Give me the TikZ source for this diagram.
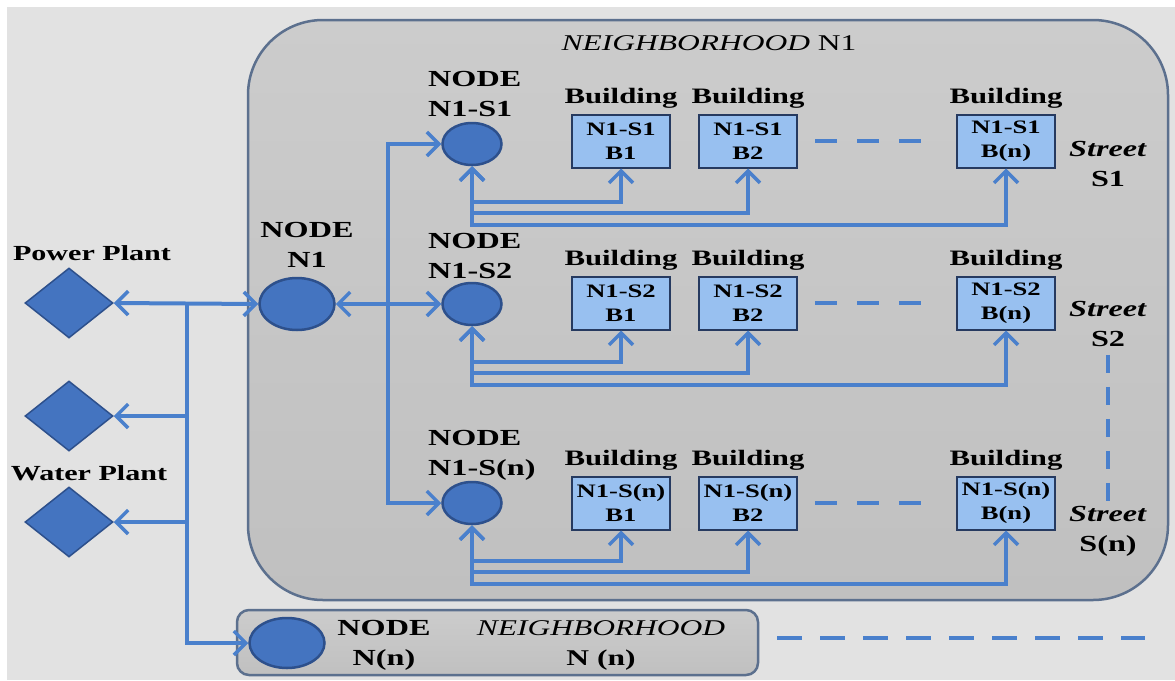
\documentclass[tikz,border=0pt]{standalone}
\usepackage{fontspec}
\setmainfont{Liberation Serif}[FakeStretch=1.4]
\usetikzlibrary{shapes.geometric,arrows.meta}

\definecolor{bg}{RGB}{226,226,226}
\definecolor{hoodtop}{RGB}{204,204,204}
\definecolor{hoodbot}{RGB}{192,192,192}
\definecolor{hoodline}{RGB}{92,112,142}
\definecolor{wire}{RGB}{74,128,204}
\definecolor{hubfill}{RGB}{68,116,192}
\definecolor{hubline}{RGB}{45,80,140}
\definecolor{bfill}{RGB}{152,192,240}
\definecolor{bline}{RGB}{38,58,96}

\begin{document}
\begin{tikzpicture}[x=1pt,y=-1pt,
  >={Straight Barb[length=12pt,width=24pt,line width=3.5pt]},
  wire/.style={draw=wire,line width=4pt},
  dashwire/.style={draw=wire,line width=4pt,dash pattern=on 22pt off 20pt},
  hub/.style={ellipse,fill=hubfill,draw=hubline,line width=2.5pt,inner sep=0pt},
  plant/.style={diamond,fill=hubfill,draw=hubline,line width=1.5pt,
    minimum width=88pt,minimum height=70pt,inner sep=0pt},
  bldg/.style={rectangle,fill=bfill,draw=bline,line width=2pt,
    minimum width=98pt,minimum height=53pt,align=center,inner sep=0pt,
    font=\fontsize{19}{24}\selectfont\bfseries},
  lbl/.style={inner sep=0pt,align=center,font=\fontsize{23}{30}\selectfont\bfseries},
  blbl/.style={inner sep=0pt,anchor=south,font=\fontsize{22}{26}\selectfont\bfseries},
  plbl/.style={inner sep=0pt,font=\fontsize{21.5}{26}\selectfont\bfseries},
  hoodbox/.style={draw=hoodline,line width=2.5pt,top color=hoodtop,bottom color=hoodbot,inner sep=0pt}
]
\useasboundingbox (0,0) rectangle (1175,680);

% page background
\fill[white] (0,0) rectangle (1175,680);
\fill[bg] (7,7) rectangle (1175,680);

% neighbourhood areas
\node[hoodbox,rounded corners=75pt,minimum width=920pt,minimum height=580pt] (hood) at (708,310) {};
\node[hoodbox,rounded corners=12pt,minimum width=521pt,minimum height=65pt] (nnbox) at (497.5,642.5) {};
\node[inner sep=0pt,font=\fontsize{22.5}{28}\selectfont] (title) at (709,43) {\textit{NEIGHBORHOOD} N1};

% plants
\node[plant] (pp) at (69,303) {};
\node[plant] (p2) at (69,416) {};
\node[plant] (wp) at (69,522) {};
\node[plbl] (pplbl) at (92,253) {Power Plant};
\node[plbl] (wplbl) at (89,473) {Water Plant};

% neighbourhood hubs
\node[hub,minimum width=75pt,minimum height=52pt] (n1) at (297,304) {};
\node[lbl] (n1lbl) at (307,245) {NODE\\N1};
\node[hub,minimum width=75pt,minimum height=50pt] (nn) at (287,643) {};
\node[lbl] (nnlbl) at (384,645) {NODE\\N(n)};
\node[lbl,font=\fontsize{22.5}{30}\selectfont\bfseries] (nnname) at (601,645) {\textit{\mdseries NEIGHBORHOOD}\\N (n)};

% street hubs
\node[hub,minimum width=59pt,minimum height=42pt] (s1) at (472,144) {};
\node[hub,minimum width=59pt,minimum height=42pt] (s2) at (472,304) {};
\node[hub,minimum width=59pt,minimum height=42pt] (s3) at (472,503) {};
\node[lbl,align=left,anchor=west] (s1lbl) at (428,94) {NODE\\N1-S1};
\node[lbl,align=left,anchor=west] (s2lbl) at (428,256) {NODE\\N1-S2};
\node[lbl,align=left,anchor=west] (s3lbl) at (428,455) {NODE\\N1-S(n)};

% buildings
\foreach \r/\y/\t in {1/141/S1, 2/303/S2, 3/503/S(n)} {
  \node[bldg] (b\r-1) at (621,\y) {N1-\t\\B1};
  \node[bldg] (b\r-2) at (748,\y) {N1-\t\\B2};
  \node[bldg] (b\r-n) at (1006,\y) {N1-\t\\B(n)};
  \foreach \b in {1,2,n}
    \node[blbl] (bl\r-\b) at ([yshift=5pt]b\r-\b.north) {Building};
  \draw[dashwire,shorten <=17pt,shorten >=30pt] (b\r-2.east) -- (b\r-n.west);
  \draw[wire,<->] (s\r.south) -- ++(0,36) -| (b\r-1.south);
  \draw[wire,<->] (s\r.south) -- ++(0,47) -| (b\r-2.south);
  \draw[wire,<->] (s\r.south) -- ++(0,59) -| (b\r-n.south);
}

% street labels
\node[lbl] (st1) at (1108,164) {\textit{Street}\\S1};
\node[lbl] (st2) at (1108,324) {\textit{Street}\\S2};
\node[lbl] (st3) at (1108,531) {\textit{Street}\\S(n)};
\draw[draw=wire,line width=4pt,dash pattern=on 18pt off 14pt,shorten <=8pt,shorten >=4pt]
  (st2.south) -- (st3.north);

% supply bus from the plants
\coordinate (jtop) at (187,303);
\coordinate (j2) at (187,416);
\coordinate (j3) at (187,522);
\draw[wire,<->] (pp.east) -- (n1.west);
\draw[wire,->] (j2) -- (p2.east);
\draw[wire,->] (j3) -- (wp.east);
\draw[wire,->] (jtop) |- (nn.west);

% distribution from NODE N1 to the streets
\coordinate (k) at (388,304);
\draw[wire,<->] (n1.east) -- (s2.west);
\draw[wire,->] (k) |- (s1.west);
\draw[wire,->] (k) |- (s3.west);

% further neighbourhoods
\coordinate (dend) at (1145,638);
\draw[draw=wire,line width=4pt,dash pattern=on 25pt off 18pt,shorten <=18pt]
  (dend -| nnbox.east) -- (dend);
\end{tikzpicture}
\end{document}
